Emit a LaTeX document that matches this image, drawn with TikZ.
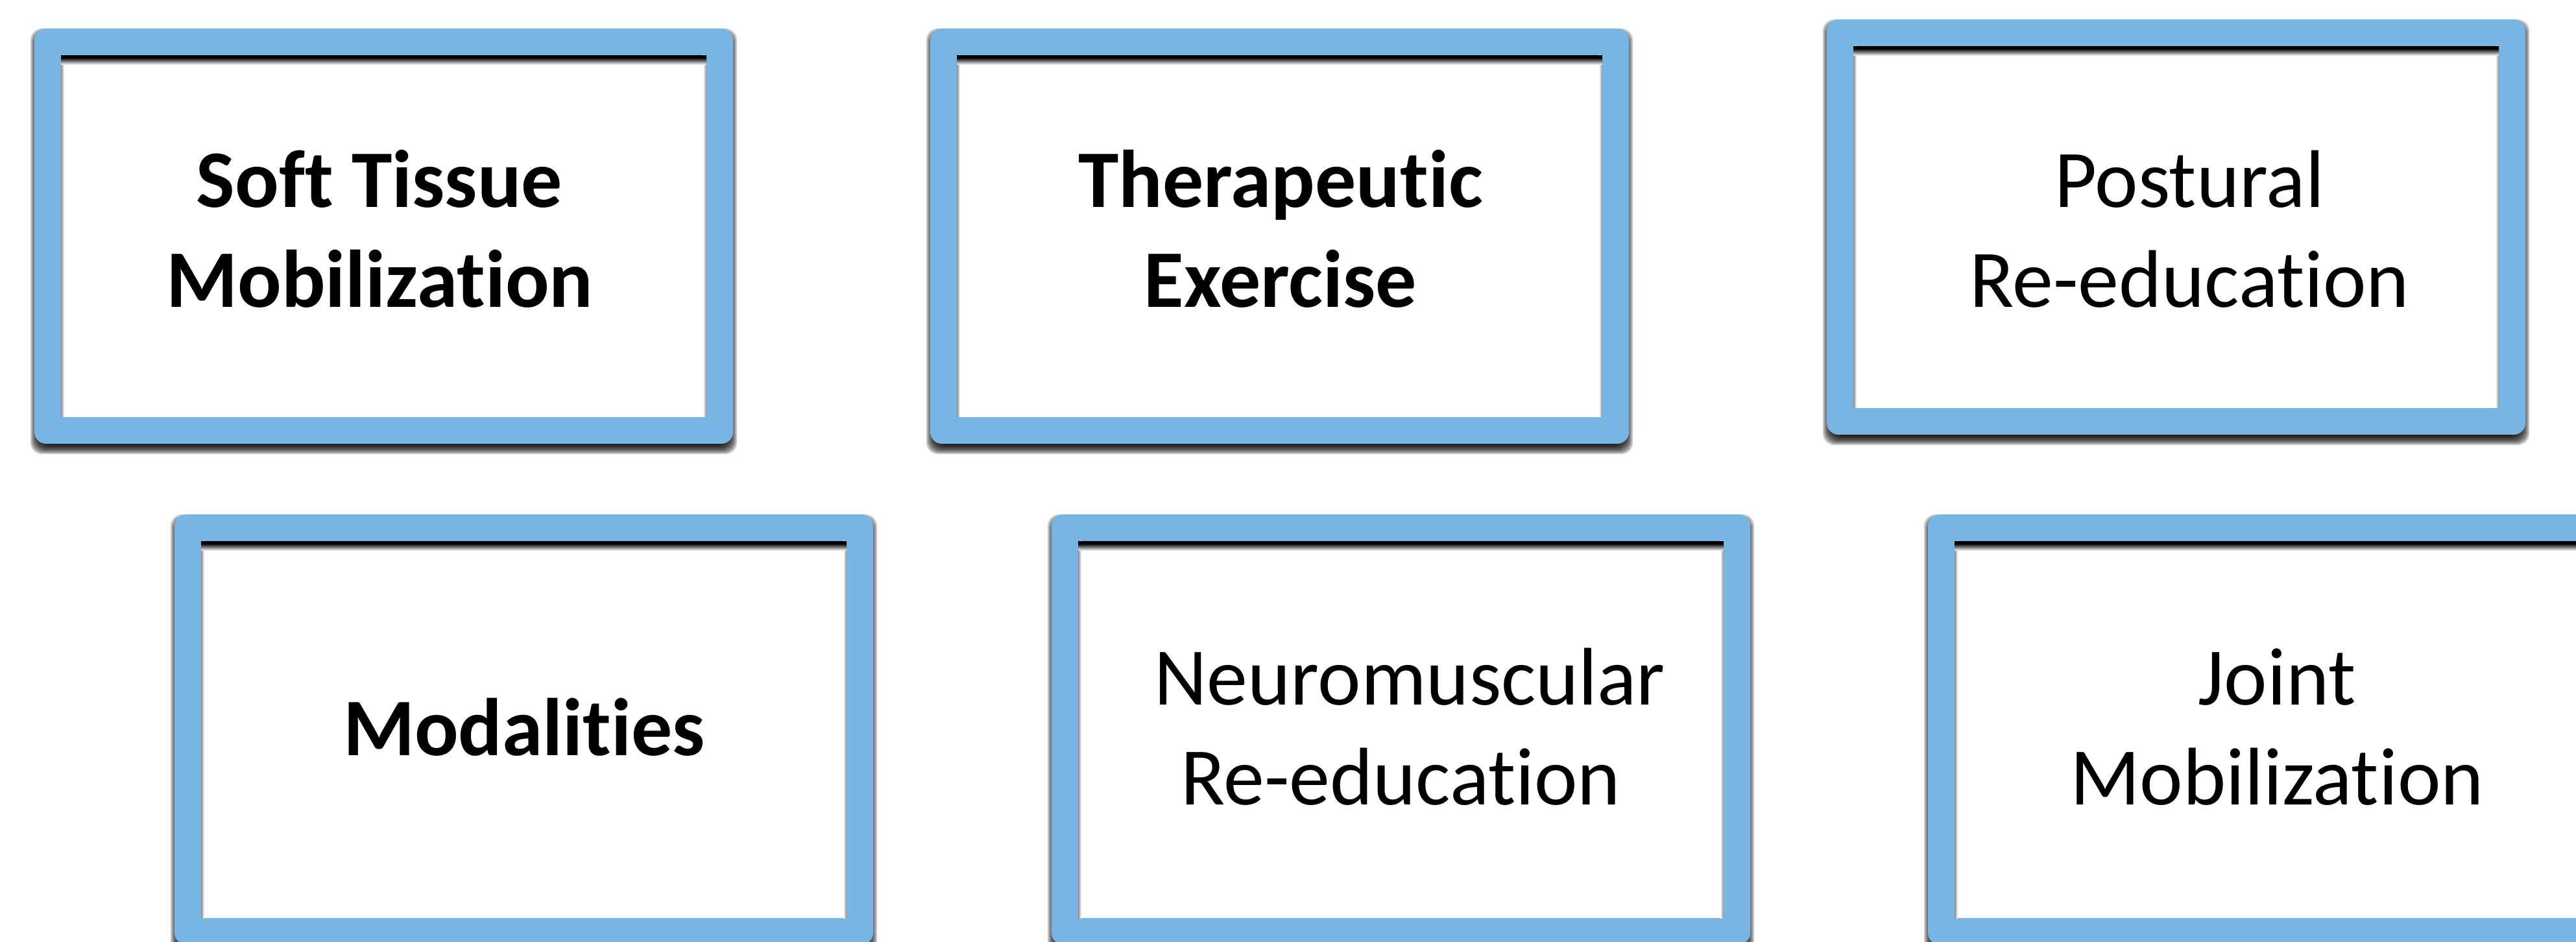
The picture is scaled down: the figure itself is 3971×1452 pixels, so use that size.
\documentclass[tikz,border=0pt]{standalone}
\usepackage{fontspec}
\setmainfont{Carlito}[Ligatures={NoCommon,NoContextual}]
\definecolor{tileblue}{RGB}{119,181,227}

% One tile: blue rounded frame with a soft drop shadow below it
% and an inset shadow along the top of the white panel.
% Arguments: left, top, right, bottom (pixel units, y grows downwards).
\newcommand\tilebox[4]{%
  \foreach \e in {8,6,4,2,0,-2,-4,-6}{%
    \fill[black, opacity=0.22, rounded corners=4.5pt]
      ({#1+2-\e},{#2+8-\e}) rectangle ({#3-2+\e},{#4+8+\e});
  }
  \fill[tileblue, rounded corners=4.5pt] (#1,#2) rectangle (#3,#4);
  \fill[white] ({#1+41},{#2+41}) rectangle ({#3-41},{#4-41});
  \shade[left color=black!45, right color=white]
    ({#1+41},{#2+41}) rectangle ({#1+46},{#4-41});
  \shade[left color=white, right color=black!45]
    ({#3-46},{#2+41}) rectangle ({#3-41},{#4-41});
  \fill[black] ({#1+41},{#2+41}) rectangle ({#3-41},{#2+45});
  \shade[top color=black, bottom color=white]
    ({#1+41},{#2+45}) rectangle ({#3-41},{#2+56});
}

\tikzset{
  lbl/.style={inner sep=0pt, anchor=base,
    font=\fontsize{31.5pt}{38.5pt}\selectfont},
  lblbold/.style={lbl,
    font=\fontsize{31.5pt}{38.5pt}\selectfont\bfseries},
}

\begin{document}
\begin{tikzpicture}[x=0.25pt, y=-0.25pt]
  \clip (0,0) rectangle (3971,1452);
  \fill[white] (0,0) rectangle (3971,1452);

  % top row
  \tilebox{53}{44}{1130}{684}
  \tilebox{1434}{44}{2511}{684}
  \tilebox{2816}{30}{3893}{670}
  % bottom row
  \tilebox{269}{793}{1346}{1456}
  \tilebox{1621}{793}{2698}{1456}
  \tilebox{2972}{793}{4049}{1456}

  \node[lblbold] (t1) at (585,320)
    {\begin{tabular}[t]{@{}c@{}}Soft Tissue\\Mobilization\end{tabular}};
  \node[lblbold] (t2) at (1974,320)
    {\begin{tabular}[t]{@{}c@{}}Therapeutic\\Exercise\end{tabular}};
  \node[lbl] (t3) at (3375,320)
    {\begin{tabular}[t]{@{}c@{}}Postural\\Re-education\end{tabular}};
  \node[lblbold] (t4) at (808,1164) {Modalities};
  \node[lbl] (t5) at (2159,1087)
    {\begin{tabular}[t]{@{}c@{}}\hspace*{.226em}Neuromuscular\\Re-education\end{tabular}};
  \node[lbl] (t6) at (3510,1087)
    {\begin{tabular}[t]{@{}c@{}}Joint\\Mobilization\end{tabular}};
\end{tikzpicture}
\end{document}
